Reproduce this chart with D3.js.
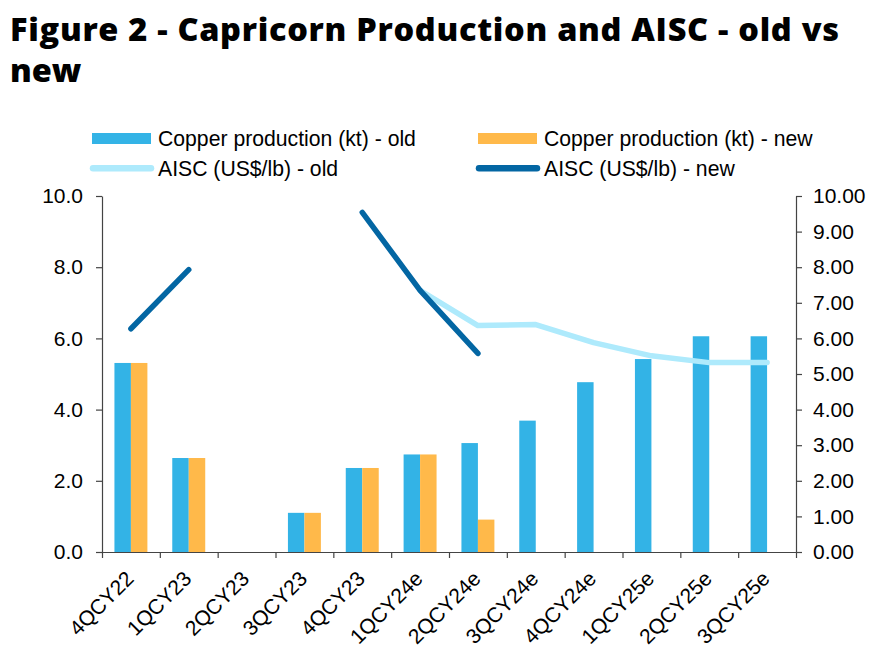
<!DOCTYPE html>
<html>
<head>
<meta charset="utf-8">
<script src="https://cdn.jsdelivr.net/npm/d3@7"></script>
<style>
  html, body { margin: 0; padding: 0; background: #fff; }
  svg { display: block; }
</style>
</head>
<body>
<svg id="chart" width="890" height="664"></svg>
<script>
const categories = ["4QCY22","1QCY23","2QCY23","3QCY23","4QCY23","1QCY24e","2QCY24e","3QCY24e","4QCY24e","1QCY25e","2QCY25e","3QCY25e"];
const prodOld = [5.31, 2.64, null, 1.10, 2.36, 2.74, 3.06, 3.69, 4.77, 5.42, 6.06, 6.06];
const prodNew = [5.31, 2.64, null, 1.10, 2.36, 2.74, 0.91, null, null, null, null, null];
const aiscOld = [null, null, null, null, null, 7.35, 6.36, 6.39, 5.88, 5.51, 5.32, 5.32];
const aiscNew = [6.27, 7.93, null, null, 9.54, 7.35, 5.58, null, null, null, null, null];
const leftTicks = [0, 2, 4, 6, 8, 10];
const rightTicks = [0, 1, 2, 3, 4, 5, 6, 7, 8, 9, 10];
const titleLines = ["Figure 2 - Capricorn Production and AISC - old vs", "new"];
const legendItems = [
  {label: "Copper production (kt) - old", type: "rect", color: "#33B3E6"},
  {label: "Copper production (kt) - new", type: "rect", color: "#FFB94A"},
  {label: "AISC (US$/lb) - old", type: "line", color: "#AEEAFC"},
  {label: "AISC (US$/lb) - new", type: "line", color: "#0366A3"}
];

const COL_OLD = "#33B3E6", COL_NEW = "#FFB94A", COL_AOLD = "#AEEAFC", COL_ANEW = "#0366A3";
const AXIS = "#444";
const FONT = "'Liberation Sans', Arial, sans-serif";

const svg = d3.select("#chart");
const L = 102, R = 796, T = 196, B = 552;

const x = d3.scaleBand().domain(categories).range([L, R]).padding(0);
const xLin = d3.scaleLinear().domain([0, categories.length]).range([L, R]);
const y = d3.scaleLinear().domain([0, 10]).range([B, T]);
const yR = d3.scaleLinear().domain([0, 10]).range([B, T]);

// Title (one wrapped text element)
const title = svg.append("text")
  .attr("x", 10).attr("y", 41)
  .attr("font-family", "'Open Sans', 'Noto Sans', sans-serif")
  .attr("font-weight", 800)
  .attr("font-size", 32.5)
  .attr("fill", "#000");
titleLines.forEach((t, i) => {
  const ts = title.append("tspan").attr("x", 10).attr("y", 41 + i * 41).text(t);
  if (i === 0) ts.attr("textLength", 829).attr("lengthAdjust", "spacing");
});

// Legend
const legPos = [[92, 138.5], [478, 138.5], [92, 168.3], [478, 168.3]];
legendItems.forEach((it, i) => {
  const [lx, ly] = legPos[i];
  if (it.type === "rect") {
    svg.append("rect").attr("x", lx).attr("y", ly - 5.5).attr("width", 59).attr("height", 11).attr("fill", it.color);
  } else {
    svg.append("line").attr("x1", lx + 1).attr("x2", lx + 59).attr("y1", ly).attr("y2", ly)
      .attr("stroke", it.color).attr("stroke-width", 6.5).attr("stroke-linecap", "round");
  }
  svg.append("text").attr("x", lx + 66).attr("y", ly + 7.2)
    .attr("font-family", FONT).attr("font-size", 21.2).attr("fill", "#000")
    .text(it.label);
});

// Bars
const bw = x.bandwidth() * 0.285;
const barG = svg.append("g");
categories.forEach((c, i) => {
  const cx = x(c) + x.bandwidth() / 2;
  if (prodOld[i] != null) {
    barG.append("rect").attr("x", cx - bw).attr("width", bw)
      .attr("y", y(prodOld[i])).attr("height", y(0) - y(prodOld[i])).attr("fill", COL_OLD);
  }
  if (prodNew[i] != null) {
    barG.append("rect").attr("x", cx).attr("width", bw)
      .attr("y", y(prodNew[i])).attr("height", y(0) - y(prodNew[i])).attr("fill", COL_NEW);
  }
});

// Axes
const axL = svg.append("g").attr("transform", `translate(${L},0)`)
  .call(d3.axisLeft(y).tickValues(leftTicks).tickFormat(d3.format(".1f")).tickSize(6).tickSizeOuter(0).tickPadding(13));
const axR = svg.append("g").attr("transform", `translate(${R},0)`)
  .call(d3.axisRight(yR).tickValues(rightTicks).tickFormat(d3.format(".2f")).tickSize(6).tickSizeOuter(0).tickPadding(11));
const axB = svg.append("g").attr("transform", `translate(0,${B})`)
  .call(d3.axisBottom(xLin).tickValues(d3.range(categories.length + 1)).tickFormat("").tickSize(6).tickSizeOuter(0));
[axL, axR, axB].forEach(g => {
  g.selectAll("path.domain").attr("stroke", AXIS).attr("stroke-width", 1.2);
  g.selectAll(".tick line").attr("stroke", AXIS).attr("stroke-width", 1.2);
  g.selectAll("text").attr("font-family", FONT).attr("font-size", 21).attr("fill", "#000");
});

// X labels
svg.append("g").selectAll("text").data(categories).join("text")
  .attr("transform", d => `translate(${x(d) + x.bandwidth() / 2 + 4},${B + 28}) rotate(-45)`)
  .attr("text-anchor", "end")
  .attr("font-family", FONT).attr("font-size", 21).attr("fill", "#000")
  .text(d => d);

// Lines
const line = d3.line()
  .defined(d => d.v != null)
  .x(d => x(d.c) + x.bandwidth() / 2)
  .y(d => yR(d.v));
const toPts = arr => categories.map((c, i) => ({c, v: arr[i]}));

svg.append("path").datum(toPts(aiscOld)).attr("d", line)
  .attr("fill", "none").attr("stroke", COL_AOLD).attr("stroke-width", 5.5)
  .attr("stroke-linecap", "round").attr("stroke-linejoin", "round");
svg.append("path").datum(toPts(aiscNew)).attr("d", line)
  .attr("fill", "none").attr("stroke", COL_ANEW).attr("stroke-width", 5.5)
  .attr("stroke-linecap", "round").attr("stroke-linejoin", "round");
</script>
</body>
</html>
